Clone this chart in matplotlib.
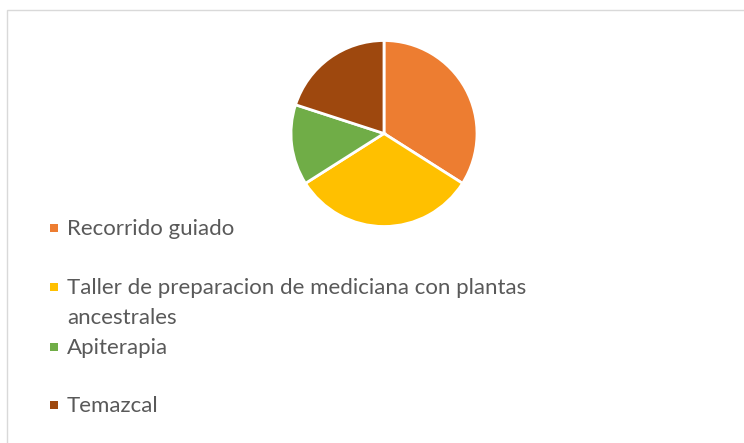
import textwrap
import matplotlib
matplotlib.use("Agg")
import matplotlib.pyplot as plt
from matplotlib.patches import Rectangle

# Data
categories = [
    "Recorrido guiado",
    "Taller de preparacion de mediciana con plantas ancestrales",
    "Apiterapia",
    "Temazcal",
]
values = [34, 32, 14, 20]
colors = ["#ED7D31", "#FFC000", "#70AD47", "#9E480E"]

W, H = 744, 443
fig = plt.figure(figsize=(W / 100, H / 100), dpi=100)
fig.patch.set_facecolor("white")

# chart-area border
fig.patches.append(Rectangle((7 / W, -0.1), 1.2, (H - 10) / H + 0.1,
                             transform=fig.transFigure, fill=False,
                             edgecolor="#D9D9D9", linewidth=1.0))

# pie axes
cx, cy, r = 384, 133.5, 93
half = 100
ax = fig.add_axes([(cx - half) / W, (H - cy - half) / H, 2 * half / W, 2 * half / H])
ax.pie(values, colors=colors, startangle=90, counterclock=False, radius=1,
       wedgeprops=dict(edgecolor="white", linewidth=2))
lim = half / r
ax.set_xlim(-lim, lim)
ax.set_ylim(-lim, lim)
ax.set_axis_off()

# legend (manual, Excel-like)
ys = [228, 287, 347, 405]
font = ["Lato", "DejaVu Sans"]
for lab, col, y in zip(categories, colors, ys):
    s = 8
    fig.patches.append(Rectangle((50 / W, (H - y - s / 2) / H), s / W, s / H,
                                 transform=fig.transFigure, facecolor=col,
                                 edgecolor="none"))
    for j, line in enumerate(textwrap.wrap(lab, 46)):
        fig.text(67 / W, (H - y - 30 * j - 1) / H, line, va="center",
                 ha="left", fontsize=16, color="#595959", family=font)

fig.savefig("out.png", dpi=100)
